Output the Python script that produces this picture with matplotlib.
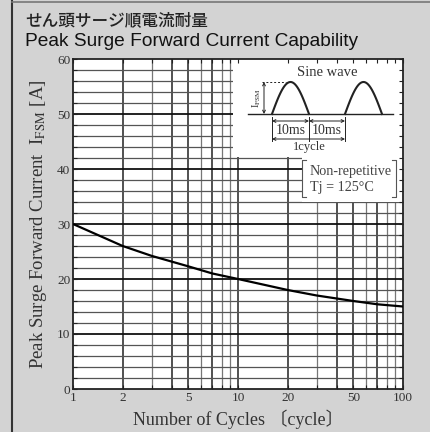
import numpy as np
import matplotlib
matplotlib.use("Agg")
import matplotlib.pyplot as plt
from matplotlib.patches import Rectangle

# data
cycles = [1, 2, 3, 5, 7, 10, 20, 30, 50, 70, 100]
ifsm = [30.0, 26.0, 24.2, 22.3, 21.0, 20.0, 18.0, 17.0, 16.0, 15.4, 15.0]

x_ticks = [1, 2, 5, 10, 20, 50, 100]
x_ticklabels = ["1", "2", "5", "10", "20", "50", "100"]
y_ticks = [0, 10, 20, 30, 40, 50, 60]

BG = "#d3d3d3"
SERIF = ["Liberation Serif", "Noto Sans CJK JP"]
plt.rcParams["mathtext.fontset"] = "stix"

W, H = 430, 432
fig = plt.figure(figsize=(W / 100, H / 100), dpi=100, facecolor=BG)

# main axes: x=1 at 73px, x=100 at 403px, y=60 at 59px, y=0 at 389px
ax = fig.add_axes([73 / W, (H - 389) / H, 330 / W, 330 / H])
ax.set_facecolor("white")
ax.set_xscale("log")
ax.set_xlim(1, 100)
ax.set_ylim(0, 60)

# grid drawn by hand so the inset boxes can sit on top of it
x_dark = [2, 4, 5, 7, 10, 20, 40, 50, 70]
x_light = [3, 6, 8, 9, 30, 60, 80, 90]
ax.vlines(x_dark, 0, 60, color="#222222", lw=1.1, zorder=1)
ax.vlines(x_light, 0, 60, color="#777777", lw=0.9, zorder=1)
y_major = [10, 20, 30, 40, 50]
y_minor = [v for v in range(2, 60, 2) if v % 10]
ax.hlines(y_major, 1, 100, color="#111111", lw=1.3, zorder=1)
ax.hlines(y_minor, 1, 100, color="#555555", lw=0.9, zorder=1)

# white areas for the inset sketch and the note
ax.add_patch(Rectangle((9.3, 42.2), 100 - 9.3, 60 - 42.2, facecolor="white",
                       edgecolor="none", zorder=2))
ax.add_patch(Rectangle((24.4, 34.0), 100 - 24.4, 42.2 - 34.0, facecolor="white",
                       edgecolor="none", zorder=2))

ax.plot(cycles, ifsm, color="black", lw=1.6, zorder=3, solid_capstyle="butt")

ax.set_axisbelow(False)
ax.set_xticks(x_ticks)
ax.set_xticklabels(x_ticklabels)
ax.set_xticks([3, 4, 6, 7, 8, 9, 30, 40, 60, 70, 80, 90], minor=True)
ax.xaxis.set_minor_formatter(plt.NullFormatter())
ax.set_yticks(y_ticks)
ax.set_yticks(y_minor, minor=True)
ax.tick_params(which="both", direction="in", length=3, width=0.8,
               top=True, right=True, colors="#222222", labelcolor="#333333",
               labelsize=9.5, pad=2)
for lab in ax.get_xticklabels() + ax.get_yticklabels():
    lab.set_family(SERIF)
for sp in ax.spines.values():
    sp.set_color("#222222")
    sp.set_linewidth(1.3)

ax.set_xlabel("Number of Cycles 〔cycle〕", family=SERIF, fontsize=13,
              color="#333333", labelpad=4)
ax.set_ylabel(r"Peak Surge Forward Current  I$_{\mathrm{FSM}}$ [A]",
              family=SERIF, fontsize=13.5, color="#333333", labelpad=6)

# overlay in pixel units for frame, title and the waveform sketch
ov = fig.add_axes([0, 0, 1, 1], facecolor="none")
ov.set_xlim(0, W)
ov.set_ylim(H, 0)
ov.axis("off")
ov.plot([12, 12], [0, H], color="#333333", lw=1.5)
ov.plot([12, W], [1.5, 1.5], color="#777777", lw=1.2)

ov.text(25, 20, "せん頭サージ順電流耐量", family=["Noto Sans CJK JP"],
        fontsize=12, fontweight="medium", color="#222222",
        va="center", ha="left")
ov.text(25, 42, "Peak Surge Forward Current Capability",
        family=["Liberation Sans"], fontsize=13.8, color="#111111",
        va="center", ha="left")

ink = "#222222"
ov.text(327, 73, "Sine wave", family=SERIF, fontsize=10.5, color="#333333",
        ha="center", va="center")
base, amp = 114, 32
t = np.linspace(0, 1, 60)
for x0, x1 in [(272, 309), (345, 382)]:
    ov.plot(x0 + t * (x1 - x0), base - amp * np.sin(np.pi * t), color=ink, lw=1.5)
ov.plot([248, 393], [base, base], color=ink, lw=1.0)
ov.plot([262, 286], [base - amp, base - amp], color=ink, lw=0.7, ls=(0, (2, 2)))
ov.annotate("", xy=(264, base - amp), xytext=(264, base),
            arrowprops=dict(arrowstyle="<->", lw=0.7, color=ink,
                            shrinkA=0, shrinkB=0, mutation_scale=5))
ov.text(257, 98, r"I$_{\mathrm{FSM}}$", family=SERIF, fontsize=7.5,
        rotation=90, color="#333333", ha="center", va="center")

for xv in [272, 309, 345]:
    ov.plot([xv, xv], [117, 141], color=ink, lw=0.7)
for x0, x1 in [(272, 309), (309, 345)]:
    ov.annotate("", xy=(x0, 121), xytext=(x1, 121),
                arrowprops=dict(arrowstyle="<->", lw=0.7, color=ink,
                                shrinkA=0, shrinkB=0, mutation_scale=5))
    ov.text((x0 + x1) / 2, 130, "10ms", family=SERIF, fontsize=10,
            color="#333333", ha="center", va="center")
ov.annotate("", xy=(272, 139), xytext=(345, 139),
            arrowprops=dict(arrowstyle="<->", lw=0.7, color=ink,
                            shrinkA=0, shrinkB=0, mutation_scale=5))
ov.text(309, 147, "1cycle", family=SERIF, fontsize=9, color="#333333",
        ha="center", va="center")

# note in brackets
ov.text(310, 172, "Non-repetitive", family=SERIF, fontsize=10.2,
        color="#444444", ha="left", va="center")
ov.text(310, 187, "Tj = 125°C", family=SERIF, fontsize=10.2,
        color="#444444", ha="left", va="center")
ov.plot([306, 302, 302, 306], [160, 160, 197, 197], color="#555555", lw=0.8)
ov.plot([392, 396, 396, 392], [160, 160, 197, 197], color="#555555", lw=0.8)

fig.savefig("out.png", dpi=100, facecolor=BG)
